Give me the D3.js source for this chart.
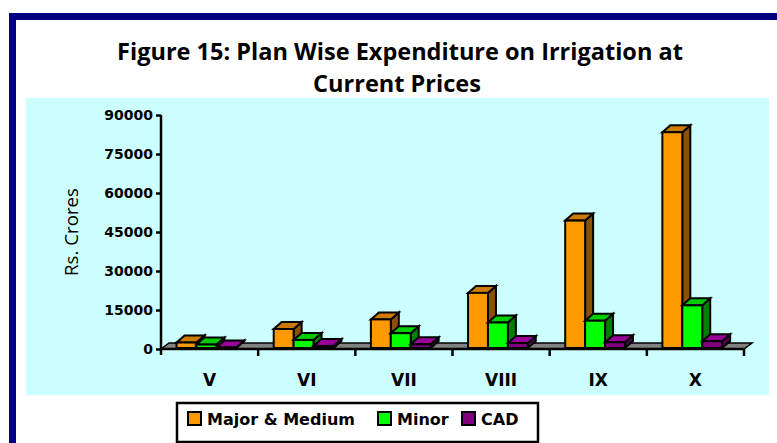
<!DOCTYPE html>
<html>
<head>
<meta charset="utf-8">
<script src="https://cdn.jsdelivr.net/npm/d3@7"></script>
<style>
    body { margin: 0; background: #fff; }
    .container { width: 777px; height: 443px; overflow: hidden; }
</style>
</head>
<body>
<div class="container"></div>
<script>
let plans = ["V", "VI", "VII", "VIII", "IX", "X"];
let seriesNames = ["Major & Medium", "Minor", "CAD"];
let majorMedium = [2100, 7300, 11000, 21200, 49000, 83000];
let minor = [1300, 3100, 5700, 9800, 10500, 16400];
let cad = [200, 800, 1400, 1900, 2200, 2600];
let yTicks = [0, 15000, 30000, 45000, 60000, 75000, 90000];

let colors = [
    { front: "#ff9900", top: "#cc7a00", side: "#8a5200" },
    { front: "#00ff00", top: "#00cc00", side: "#008000" },
    { front: "#800080", top: "#990099", side: "#4d004d" }
];

let width = 777, height = 443;
let depth = { dx: 8, dy: 7 };

let svg = d3.select(".container")
    .append("svg")
    .attr("width", width)
    .attr("height", height)
    .style("font-family", "'DejaVu Sans', Verdana, sans-serif");

// navy frame
svg.append("rect")
    .attr("x", 12.5).attr("y", 16.5)
    .attr("width", 800).attr("height", 500)
    .attr("fill", "none")
    .attr("stroke", "#000080")
    .attr("stroke-width", 7);

// plot area
svg.append("rect")
    .attr("x", 26).attr("y", 98)
    .attr("width", 743).attr("height", 297)
    .attr("fill", "#ccffff");

// shrink / grow a text to a target width (stands in for Calibri)
const fitText = (sel, target) => {
    let fs = parseFloat(sel.style("font-size"));
    let w = sel.node().getComputedTextLength();
    sel.style("font-size", (fs * target / w).toFixed(2) + "px");
};

// title
let t1 = svg.append("text")
    .attr("x", 400).attr("y", 60)
    .attr("text-anchor", "middle")
    .style("font-family", "'Open Sans', Lato, sans-serif")
    .style("font-weight", "bold")
    .style("font-size", "22px")
    .text("Figure 15: Plan Wise Expenditure on Irrigation at");
fitText(t1, 566);
let t2 = svg.append("text")
    .attr("x", 397).attr("y", 92)
    .attr("text-anchor", "middle")
    .style("font-family", "'Open Sans', Lato, sans-serif")
    .style("font-weight", "bold")
    .style("font-size", t1.style("font-size"))
    .text("Current Prices");

let x = d3.scaleBand()
    .domain(plans)
    .range([161, 744]);

let y = d3.scaleLinear()
    .domain([0, 90000])
    .range([349, 115]);

let barW = x.bandwidth() * 0.205;
let barOffset = x.bandwidth() * 0.16;

// floor
let y0 = y(0);
svg.append("polygon")
    .attr("points", [
        [x.range()[0], y0], [x.range()[1], y0],
        [x.range()[1] + depth.dx, y0 - 6], [x.range()[0] + depth.dx, y0 - 6]
    ].map(p => p.join(",")).join(" "))
    .attr("fill", "#808080")
    .attr("stroke", "#000")
    .attr("stroke-width", 1.5);

// bars
let bars = [];
plans.forEach((p, i) => {
    [majorMedium, minor, cad].forEach((s, j) => {
        bars.push({ plan: p, value: s[i], series: j });
    });
});

let barG = svg.append("g")
    .attr("stroke", "#000")
    .attr("stroke-width", 2)
    .attr("stroke-linejoin", "miter");

bars.forEach(d => {
    let bx = x(d.plan) + barOffset + d.series * barW;
    let yt = y(d.value) - 1;
    let yb = y0 - 1;
    let c = colors[d.series];
    let g = barG.append("g");
    // side
    g.append("polygon")
        .attr("points", [[bx + barW, yt], [bx + barW + depth.dx, yt - depth.dy],
            [bx + barW + depth.dx, yb - depth.dy], [bx + barW, yb]].map(p => p.join(",")).join(" "))
        .attr("fill", c.side);
    // top
    g.append("polygon")
        .attr("points", [[bx, yt], [bx + depth.dx, yt - depth.dy],
            [bx + barW + depth.dx, yt - depth.dy], [bx + barW, yt]].map(p => p.join(",")).join(" "))
        .attr("fill", c.top);
    // front
    g.append("rect")
        .attr("x", bx)
        .attr("y", yt)
        .attr("width", barW)
        .attr("height", Math.max(0, yb - yt))
        .attr("fill", c.front);
});

// y axis
let yAxis = svg.append("g")
    .attr("transform", "translate(161,0)")
    .call(d3.axisLeft(y).tickValues(yTicks).tickSize(5).tickPadding(3).tickFormat(d3.format("d")));
yAxis.select(".domain").attr("d", "M0," + y(90000) + "V" + (y0 + 6)).attr("stroke-width", 2.5);
yAxis.selectAll(".tick line").attr("stroke-width", 2.5);
yAxis.selectAll(".tick text")
    .style("font-family", "'DejaVu Sans', Verdana, sans-serif")
    .style("font-size", "14px")
    .style("font-weight", "bold")
    .attr("fill", "#000");

// x axis
svg.append("line")
    .attr("x1", 161).attr("x2", 744)
    .attr("y1", y0).attr("y2", y0)
    .attr("stroke", "#000").attr("stroke-width", 2.5);

svg.append("g")
    .selectAll("line")
    .data(plans)
    .enter()
    .append("line")
    .attr("x1", d => x(d) + x.bandwidth())
    .attr("x2", d => x(d) + x.bandwidth())
    .attr("y1", y0)
    .attr("y2", y0 + 7)
    .attr("stroke", "#000")
    .attr("stroke-width", 2.5);

svg.append("g")
    .selectAll("text")
    .data(plans)
    .enter()
    .append("text")
    .attr("x", d => x(d) + x.bandwidth() / 2)
    .attr("y", 386)
    .attr("text-anchor", "middle")
    .style("font-size", "17px")
    .style("font-weight", "bold")
    .text(d => d);

// y label
let yLabel = svg.append("text")
    .attr("transform", "translate(78,232) rotate(-90)")
    .attr("text-anchor", "middle")
    .style("font-family", "'Open Sans', Lato, sans-serif")
    .style("font-size", "20px")
    .text("Rs. Crores");
fitText(yLabel, 88);

// legend
svg.append("rect")
    .attr("x", 177).attr("y", 403)
    .attr("width", 361).attr("height", 39)
    .attr("fill", "#fff")
    .attr("stroke", "#000")
    .attr("stroke-width", 2.5);

let legendX = [188, 378, 462];
let legend = svg.append("g")
    .selectAll("g")
    .data(seriesNames)
    .enter()
    .append("g")
    .attr("transform", (d, i) => "translate(" + legendX[i] + ",412)");

legend.append("rect")
    .attr("width", 13).attr("height", 13)
    .attr("fill", (d, i) => colors[i].front)
    .attr("stroke", "#000")
    .attr("stroke-width", 2);

legend.append("text")
    .attr("x", 19)
    .attr("y", 13)
    .style("font-size", "16px")
    .style("font-weight", "bold")
    .text(d => d);
</script>
</body>
</html>
